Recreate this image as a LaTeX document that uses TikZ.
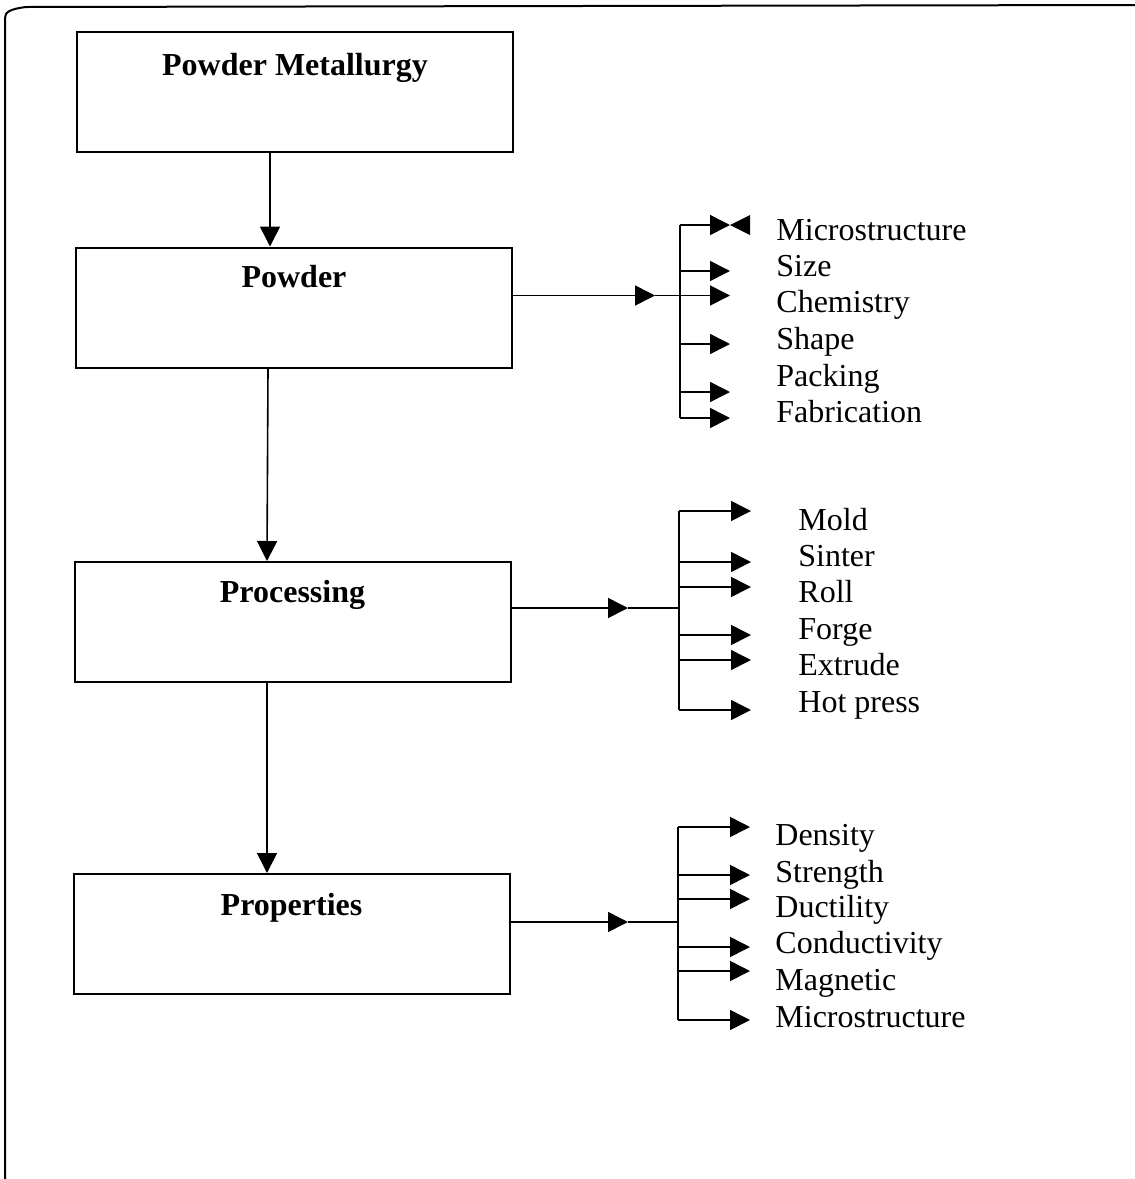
\documentclass[tikz,border=0pt]{standalone}
\usepackage{fontspec}
\setmainfont{Liberation Serif}
\usetikzlibrary{arrows.meta}
\begin{document}
\begin{tikzpicture}[x=0.5pt,y=-0.5pt,
  box/.style={draw,line width=1pt,minimum width=218pt,minimum height=60pt,inner sep=0pt},
  title/.style={font=\fontsize{16}{19}\selectfont\bfseries,anchor=base,inner sep=0pt},
  lbl/.style={font=\fontsize{16}{19}\selectfont,anchor=base west,inner sep=0pt},
  conn/.style={line width=0.8pt},
  arr/.style={conn,-{Triangle[length=10pt,width=10pt]}},
]
\useasboundingbox (0,0) rectangle (1135,1179);
% frame
\draw[line width=1pt] (5,1179) -- (5,18) .. controls (5,12) and (10,9) .. (26,7) -- (1135,5);

% boxes
\node[box] (b1) at (295,92) {};
\node[box] (b2) at (294,307.5) {};
\node[box] (b3) at (292.5,622) {};
\node[box] (b4) at (291.5,934) {};
\node[title] (t1) at (295,75) {Powder Metallurgy};
\node[title] (t2) at (294,287) {Powder};
\node[title] (t3) at (292.5,602) {Processing};
\node[title] (t4) at (291.5,915) {Properties};

% vertical arrows
\draw[arr] ([xshift=-12.5pt]b1.south) -- ([xshift=-12pt]b2.north);
\draw[arr] ([xshift=-13pt]b2.south) -- ([xshift=-12.75pt]b3.north);
\draw[arr] ([xshift=-12.75pt]b3.south) -- ([xshift=-12.25pt]b4.north);

% ---------- Powder group ----------
\coordinate (m2) at (655,295.5);
\coordinate (j2) at (680,295.5);
\draw[arr] (b2.east |- m2) -- (m2);
\draw[conn] (m2) -- (j2);
\coordinate (s21) at (680,225);
\coordinate (s22) at (680,271);
\coordinate (s23) at (680,295.5);
\coordinate (s24) at (680,344);
\coordinate (s25) at (680,392);
\coordinate (s26) at (680,418);
\coordinate (e21) at (730,225);
\coordinate (e22) at (730,271);
\coordinate (e23) at (730,295.5);
\coordinate (e24) at (730,344);
\coordinate (e25) at (730,392);
\coordinate (e26) at (730,418);
\draw[conn] (s21) -- (s26);
\foreach \i in {1,...,6} {\draw[arr] (s2\i) -- (e2\i);}
\fill (e21) -- ++(20,-10) -- ++(0,20) -- cycle;
\node[lbl] (l21) at (776,240) {Microstructure};
\node[lbl] (l22) at (776,276) {Size};
\node[lbl] (l23) at (776,312) {Chemistry};
\node[lbl] (l24) at (776,349) {Shape};
\node[lbl] (l25) at (776,386) {Packing};
\node[lbl] (l26) at (776,422) {Fabrication};

% ---------- Processing group ----------
\coordinate (m3) at (628,608);
\coordinate (j3) at (679,608);
\draw[arr] (b3.east |- m3) -- (m3);
\draw[conn] (m3) -- (j3);
\coordinate (s31) at (679,511);
\coordinate (s32) at (679,562);
\coordinate (s33) at (679,587);
\coordinate (s34) at (679,635);
\coordinate (s35) at (679,660);
\coordinate (s36) at (679,710);
\coordinate (e31) at (751,511);
\coordinate (e32) at (751,562);
\coordinate (e33) at (751,587);
\coordinate (e34) at (751,635);
\coordinate (e35) at (751,660);
\coordinate (e36) at (751,710);
\draw[conn] (s31) -- (s36);
\foreach \i in {1,...,6} {\draw[arr] (s3\i) -- (e3\i);}
\node[lbl] (l31) at (798,530) {Mold};
\node[lbl] (l32) at (798,566) {Sinter};
\node[lbl] (l33) at (798,602) {Roll};
\node[lbl] (l34) at (798,639) {Forge};
\node[lbl] (l35) at (798,675) {Extrude};
\node[lbl] (l36) at (798,712) {Hot press};

% ---------- Properties group ----------
\coordinate (m4) at (628,922);
\coordinate (j4) at (678,922);
\draw[arr] (b4.east |- m4) -- (m4);
\draw[conn] (m4) -- (j4);
\coordinate (s41) at (678,827);
\coordinate (s42) at (678,875);
\coordinate (s43) at (678,899);
\coordinate (s44) at (678,947);
\coordinate (s45) at (678,971);
\coordinate (s46) at (678,1020);
\coordinate (e41) at (750,827);
\coordinate (e42) at (750,875);
\coordinate (e43) at (750,899);
\coordinate (e44) at (750,947);
\coordinate (e45) at (750,971);
\coordinate (e46) at (750,1020);
\draw[conn] (s41) -- (s46);
\foreach \i in {1,...,6} {\draw[arr] (s4\i) -- (e4\i);}
\node[lbl] (l41) at (775,845) {Density};
\node[lbl] (l42) at (775,882) {Strength};
\node[lbl] (l43) at (775,917) {Ductility};
\node[lbl] (l44) at (775,953) {Conductivity};
\node[lbl] (l45) at (775,990) {Magnetic};
\node[lbl] (l46) at (775,1027) {Microstructure};
\end{tikzpicture}
\end{document}
